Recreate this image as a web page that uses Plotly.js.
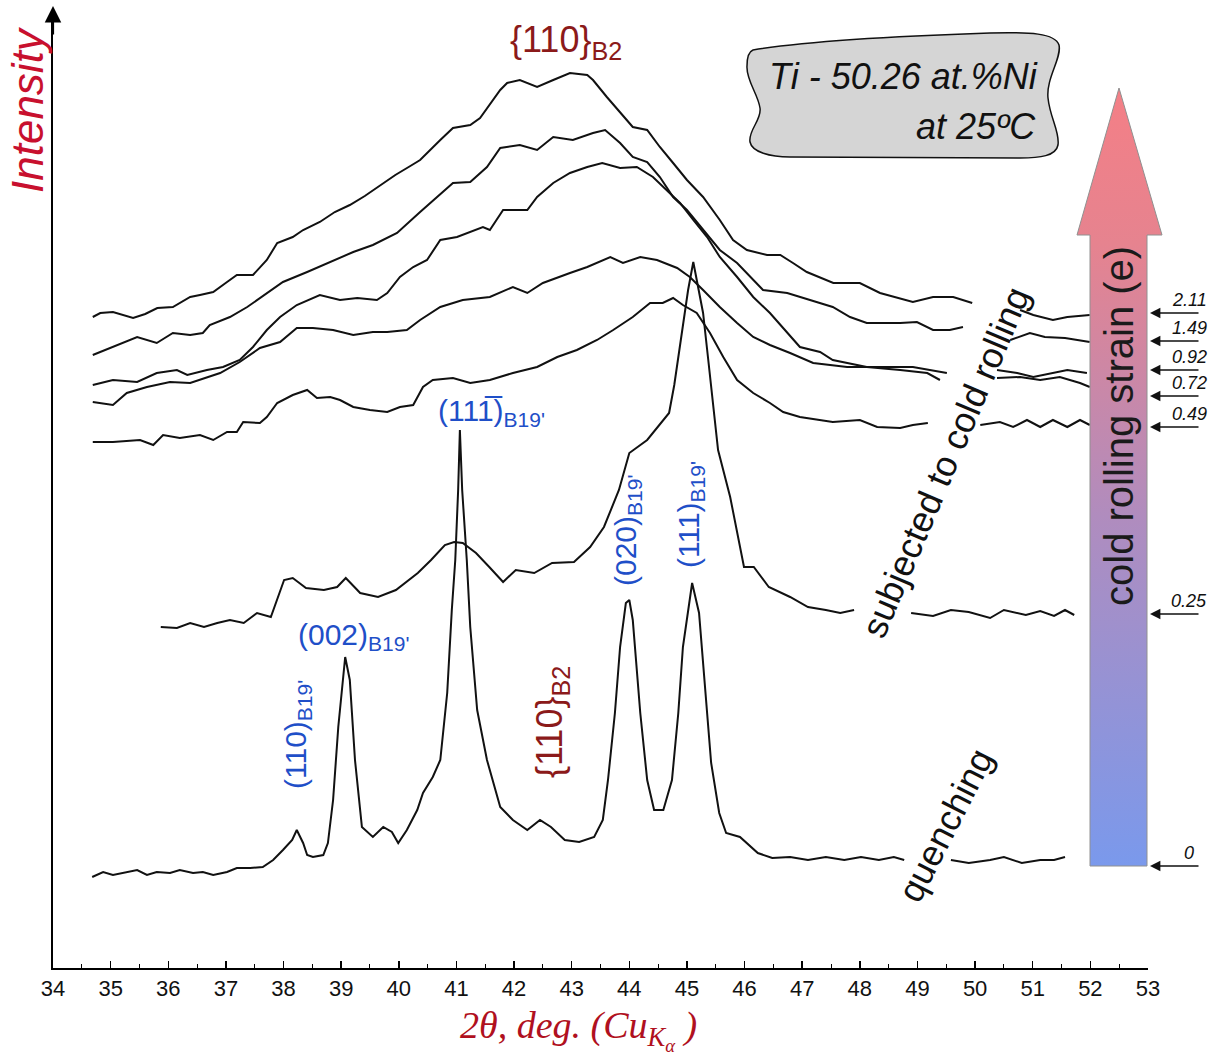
<!DOCTYPE html>
<html>
<head>
<meta charset="utf-8">
<script src="https://cdn.plot.ly/plotly-3.0.1.min.js"></script>
<style>html,body{margin:0;padding:0;background:#fff;}#chart{width:1217px;height:1062px;}</style>
</head>
<body>
<div id="chart"></div>
<script>
// ---- DATA (2θ in degrees, intensity in arbitrary units) ----
const strain_2_11 = [[34.69,651],[34.82,655],[35.04,656],[35.25,652],[35.39,650],[35.60,654],[35.81,660],[36.08,661],[36.38,671],[36.55,673],[36.78,676],[37.02,686],[37.19,693],[37.47,693],[37.71,708],[37.89,725],[38.16,731],[38.34,738],[38.63,746],[38.89,756],[39.15,763],[39.41,772],[39.68,783],[39.94,793],[40.20,802],[40.37,808],[40.72,828],[40.94,840],[41.24,843],[41.41,850],[41.76,878],[41.88,885],[42.10,888],[42.40,881],[42.68,888],[42.97,895],[43.27,893],[43.37,888],[43.61,871],[43.84,856],[44.06,841],[44.31,838],[44.53,821],[44.76,805],[45.00,788],[45.28,771],[45.57,748],[45.80,728],[46.04,718],[46.39,713],[46.62,713],[46.84,705],[47.08,696],[47.54,685],[48.00,685],[48.35,675],[48.92,666],[49.27,671],[49.62,671],[49.95,665],[null,null],[50.78,658],[51.01,653],[51.35,648],[51.60,651],[51.99,653]];
const strain_1_49 = [[34.69,613],[35.04,621],[35.46,631],[35.80,625],[36.08,635],[36.38,633],[36.60,635],[36.72,643],[37.07,651],[37.37,661],[37.71,675],[37.99,686],[38.41,696],[38.81,706],[39.21,716],[39.55,723],[39.97,735],[40.37,756],[40.66,771],[40.94,785],[41.24,786],[41.53,801],[41.76,820],[42.10,823],[42.40,818],[42.68,831],[43.02,828],[43.37,835],[43.58,838],[43.84,825],[44.06,811],[44.31,806],[44.53,791],[44.76,771],[45.00,758],[45.28,738],[45.57,718],[45.87,705],[46.32,678],[46.74,675],[46.96,671],[47.53,661],[47.83,651],[48.12,645],[48.70,645],[48.99,646],[49.27,638],[49.56,638],[49.79,641],[null,null],[50.61,628],[50.95,635],[51.21,631],[51.56,630],[51.99,626]];
const strain_0_92 = [[34.69,583],[35.04,588],[35.46,586],[35.80,595],[36.15,598],[36.33,593],[36.67,598],[36.95,601],[37.24,608],[37.47,621],[37.71,638],[37.94,651],[38.23,663],[38.63,673],[38.98,668],[39.28,670],[39.62,668],[39.80,675],[40.02,691],[40.25,701],[40.49,708],[40.72,728],[41.01,731],[41.46,741],[41.58,738],[41.81,758],[42.23,758],[42.40,771],[42.68,785],[42.97,795],[43.27,801],[43.53,805],[43.84,800],[44.13,801],[44.41,791],[44.65,778],[44.88,765],[45.11,748],[45.35,731],[45.57,711],[45.87,691],[46.15,671],[46.44,655],[46.96,621],[47.31,616],[47.53,608],[48.12,601],[48.70,598],[49.17,595],[49.39,588],[null,null],[50.38,598],[50.73,595],[51.01,591],[51.35,595],[51.60,598],[51.94,595]];
const strain_0_72 = [[34.69,566],[35.04,563],[35.28,575],[35.63,581],[36.03,586],[36.38,585],[36.90,595],[37.24,606],[37.59,620],[37.94,626],[38.23,640],[38.51,640],[38.86,638],[39.21,633],[39.55,636],[39.80,636],[40.14,638],[40.37,648],[40.72,661],[41.11,668],[41.58,671],[41.98,681],[42.23,675],[42.50,685],[42.97,695],[43.27,701],[43.67,711],[43.89,705],[44.19,711],[44.48,708],[44.83,700],[45.05,691],[45.28,678],[45.57,661],[45.87,645],[46.15,631],[46.44,623],[46.79,615],[47.19,605],[47.78,601],[48.47,601],[48.92,601],[49.51,595],[null,null],[50.38,590],[50.78,591],[51.13,588],[51.47,591],[51.82,585],[51.99,581]];
const strain_0_49 = [[34.69,526],[35.04,526],[35.51,528],[35.74,523],[35.91,533],[36.20,530],[36.55,533],[36.78,528],[37.02,536],[37.19,536],[37.30,546],[37.59,545],[37.71,551],[37.89,565],[38.16,573],[38.41,578],[38.58,570],[38.81,571],[38.98,568],[39.21,561],[39.50,558],[39.80,556],[40.02,561],[40.25,563],[40.42,581],[40.59,588],[40.94,590],[41.24,585],[41.58,588],[41.98,595],[42.40,601],[42.75,611],[43.09,618],[43.44,628],[43.72,638],[44.06,651],[44.36,665],[44.58,665],[44.76,670],[44.93,663],[45.17,655],[45.40,635],[45.63,611],[45.87,588],[46.15,575],[46.44,565],[46.67,556],[46.96,551],[47.53,546],[48.00,548],[48.30,541],[48.70,540],[48.92,543],[49.18,545],[null,null],[50.09,543],[50.43,546],[50.66,541],[50.90,548],[51.13,541],[51.35,548],[51.60,541],[51.82,548],[51.99,543]];
const strain_0_25 = [[35.87,341],[36.15,340],[36.38,345],[36.62,341],[36.85,345],[37.07,348],[37.31,345],[37.54,355],[37.78,351],[38.01,388],[38.16,390],[38.39,380],[38.70,378],[38.93,381],[39.08,390],[39.33,375],[39.64,371],[39.95,378],[40.33,395],[40.56,408],[40.80,423],[40.96,426],[41.11,425],[41.34,415],[41.57,401],[41.81,386],[42.03,398],[42.35,395],[42.66,405],[43.04,406],[43.32,421],[43.56,441],[43.82,478],[44.00,515],[44.31,528],[44.50,541],[44.69,555],[44.78,583],[44.85,611],[44.95,648],[45.02,678],[45.11,706],[45.19,683],[45.28,655],[45.37,608],[45.44,568],[45.54,518],[45.75,471],[45.99,401],[46.16,401],[46.42,381],[46.79,371],[47.10,361],[47.41,358],[47.66,355],[47.90,358],[null,null],[48.89,355],[49.27,352],[49.58,358],[49.89,356],[50.26,350],[50.50,358],[50.88,353],[51.13,357],[51.37,352],[51.56,358],[51.72,353]];
const strain_0 = [[34.68,91],[34.87,96],[35.04,93],[35.21,95],[35.46,98],[35.63,93],[35.80,96],[36.03,95],[36.20,98],[36.43,95],[36.60,96],[36.78,93],[37.02,96],[37.19,100],[37.42,100],[37.64,101],[37.82,108],[37.99,118],[38.15,128],[38.23,138],[38.34,125],[38.41,113],[38.51,111],[38.69,113],[38.77,125],[38.86,168],[38.95,241],[39.07,311],[39.15,288],[39.24,208],[39.36,141],[39.55,131],[39.73,141],[39.88,136],[39.99,125],[40.14,138],[40.32,158],[40.42,175],[40.59,191],[40.72,208],[40.84,275],[40.92,358],[40.98,408],[41.03,478],[41.06,538],[41.10,478],[41.18,408],[41.24,341],[41.36,258],[41.53,208],[41.76,161],[41.98,148],[42.23,138],[42.45,148],[42.64,141],[42.88,128],[43.13,126],[43.39,131],[43.54,148],[43.63,188],[43.75,255],[43.84,321],[43.94,365],[44.00,368],[44.06,348],[44.19,255],[44.31,188],[44.43,158],[44.59,158],[44.74,188],[44.85,255],[44.93,321],[45.09,385],[45.21,355],[45.30,288],[45.42,205],[45.56,155],[45.68,135],[45.92,131],[46.04,125],[46.23,115],[46.48,110],[46.79,111],[47.10,108],[47.41,111],[47.73,108],[48.02,111],[48.33,108],[48.59,111],[48.77,108],[null,null],[49.58,108],[49.89,105],[50.26,108],[50.50,111],[50.81,105],[51.13,108],[51.37,108],[51.56,111]];

const seriesList = [strain_2_11, strain_1_49, strain_0_92, strain_0_72, strain_0_49, strain_0_25, strain_0];
const strainLabels = ['2.11','1.49','0.92','0.72','0.49','0.25','0'];
const xTicks = [34,35,36,37,38,39,40,41,42,43,44,45,46,47,48,49,50,51,52,53];

// ---- LAYOUT HELPERS (pixel -> paper) ----
const W = 1217, H = 1062;
const px = x => x / W;
const py = y => 1 - y / H;

const traces = seriesList.map((s, i) => ({
  type: 'scatter', mode: 'lines', name: strainLabels[i],
  x: s.map(p => p[0]), y: s.map(p => p[1]),
  line: {color: '#111', width: 2}, connectgaps: false, hoverinfo: 'skip',
  xaxis: 'x', yaxis: 'y'
}));

// gradient arrow (decoration, pixel space)
traces.push({
  type: 'scatter', mode: 'lines', xaxis: 'x2', yaxis: 'y2',
  x: [1090, 1090, 1077, 1119, 1162, 1147, 1147, 1090],
  y: [866, 235, 235, 88, 235, 235, 866, 866],
  fill: 'toself',
  fillgradient: {type: 'vertical', start: 88, stop: 866,
    colorscale: [[0, '#f47f86'], [0.2, '#e6838f'], [0.55, '#b08cbe'], [1, '#7a99ec']]},
  line: {color: '#909090', width: 1}, hoverinfo: 'skip'
});

const blue = '#1f4fc8', dred = '#8b1a1a';
const ann = [];
function txt(t, x, y, o) {
  ann.push(Object.assign({text: t, x: px(x), y: py(y), xref: 'paper', yref: 'paper',
    showarrow: false, xanchor: 'center', yanchor: 'middle'}, o || {}));
}
const sans = 'Liberation Sans, Arial, sans-serif';

// axis titles
txt('<i>Intensity</i>', 28, 110, {textangle: -90, font: {family: sans, size: 44, color: '#c8102e'}});
txt('<i>2θ, deg. (Cu<sub>K<sub>α</sub></sub> )</i>', 578, 1030, {font: {family: 'Liberation Serif, Times New Roman, serif', size: 38, color: '#b01020'}});

// peak labels
txt('{110}<sub>B2</sub>', 566, 42, {font: {family: sans, size: 36, color: dred}});
txt('(11' + '1\u0305' + ')<sub>B19\'</sub>', 491, 413, {font: {family: sans, size: 30, color: blue}});
txt('(002)<sub>B19\'</sub>', 353, 636, {font: {family: sans, size: 30, color: blue}});
txt('(110)<sub>B19\'</sub>', 297, 735, {textangle: -90, font: {family: sans, size: 30, color: blue}});
txt('{110}<sub>B2</sub>', 552, 722, {textangle: -90, font: {family: sans, size: 36, color: dred}});
txt('(020)<sub>B19\'</sub>', 627, 531, {textangle: -90, font: {family: sans, size: 30, color: blue}});
txt('(111)<sub>B19\'</sub>', 690, 515, {textangle: -90, font: {family: sans, size: 30, color: blue}});

// process labels
txt('subjected to cold rolling', 945, 462, {textangle: -67, font: {family: sans, size: 36, color: '#111'}});
txt('quenching', 945, 825, {textangle: -63, font: {family: sans, size: 36, color: '#111'}});

// box text
txt('<i>Ti - 50.26 at.%Ni</i>', 1040, 77, {xanchor: 'right', font: {family: sans, size: 36, color: '#111'}});
txt('<i>at 25ºC</i>', 1038, 126, {xanchor: 'right', font: {family: sans, size: 36, color: '#111'}});

// arrow text
txt('cold rolling strain (e)', 1119, 426, {textangle: -90, font: {family: sans, size: 40, color: '#1a1a1a'}});

// strain markers
const markerY = [313, 341, 370, 396, 427, 614, 866];
strainLabels.forEach((lab, i) => {
  ann.push({text: '', x: px(1150), y: py(markerY[i]), xref: 'paper', yref: 'paper',
    showarrow: true, ax: 50, ay: 0, arrowhead: 2, arrowsize: 1.3, arrowwidth: 1.6, arrowcolor: '#111'});
  txt('<i>' + lab + '</i>', 1189, markerY[i] - 1, {yanchor: 'bottom', font: {family: sans, size: 18, color: '#111'}});
});

// y axis arrow head
ann.push({text: '', x: px(53), y: py(6), xref: 'paper', yref: 'paper', showarrow: true,
  ax: 0, ay: 30, arrowhead: 2, arrowsize: 1.5, arrowwidth: 2.2, arrowcolor: '#000'});

const layout = {
  width: W, height: H, margin: {l: 0, r: 0, t: 0, b: 0},
  paper_bgcolor: '#fff', plot_bgcolor: 'rgba(0,0,0,0)', showlegend: false, hovermode: false,
  xaxis: {domain: [53 / W, 1148 / W], range: [34, 53], anchor: 'y', showline: true, linecolor: '#000', linewidth: 2,
    ticks: 'inside', ticklen: 7, tickwidth: 1.5, tickcolor: '#000', tickvals: xTicks, ticktext: xTicks.map(String),
    minor: {dtick: 0.5, tick0: 34, ticks: 'inside', ticklen: 4, tickwidth: 1, tickcolor: '#000', showgrid: false},
    showgrid: false, zeroline: false, tickfont: {family: sans, size: 22, color: '#111'}},
  yaxis: {domain: [94 / H, 1042 / H], range: [0, 948], anchor: 'x', showline: true, linecolor: '#000', linewidth: 2.5,
    showticklabels: false, ticks: '', showgrid: false, zeroline: false},
  xaxis2: {domain: [0, 1], range: [0, W], anchor: 'y2', visible: false},
  yaxis2: {domain: [0, 1], range: [H, 0], anchor: 'x2', visible: false},
  shapes: [{type: 'path', xref: 'x2', yref: 'y2', layer: 'below',
    path: 'M 753,50 C 800,42 900,36 990,33 C 1030,32 1055,33 1059,45 C 1062,58 1046,78 1048,98 C 1050,118 1060,132 1058,145 C 1056,156 1040,158 1020,158 L 790,157 C 770,157 752,152 750,142 C 748,130 762,120 760,108 C 758,94 746,80 747,66 C 747,58 748,52 753,50 Z',
    fillcolor: '#d5d5d5', line: {color: '#111', width: 1.5}}],
  annotations: ann
};

Plotly.newPlot('chart', traces, layout, {staticPlot: true, displayModeBar: false});
</script>
</body>
</html>
